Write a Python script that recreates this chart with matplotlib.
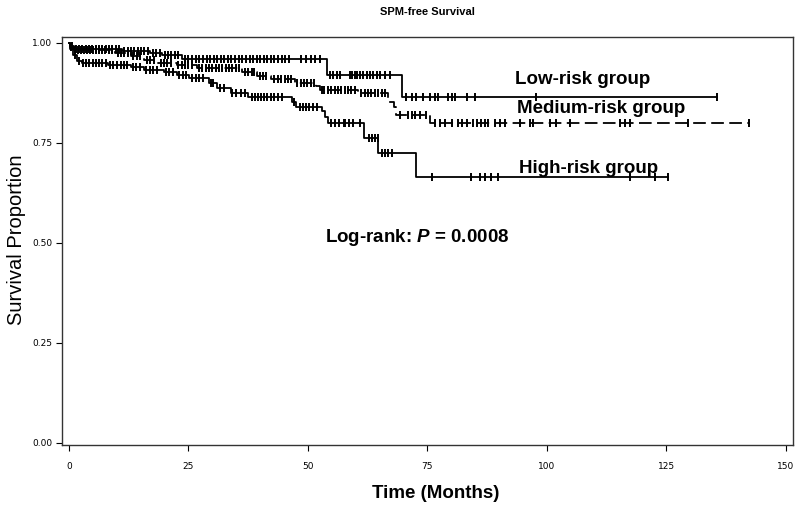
import numpy as np
import matplotlib
matplotlib.use("Agg")
import matplotlib.pyplot as plt

plt.rcParams["mathtext.fontset"] = "custom"
plt.rcParams["mathtext.it"] = "Liberation Sans:italic:bold"
plt.rcParams["mathtext.rm"] = "Liberation Sans:bold"

# ---- data ----
low_times = [0, 0.3, 1.0, 11.0, 17.0, 19.5, 23.7, 53.9, 69.6]
low_surv = [1.0, 0.992, 0.985, 0.979, 0.975, 0.971, 0.961, 0.921, 0.866]
low_end = 135.6
low_censor = [0.6, 1.4, 2.1, 2.8, 3.5, 4.2, 4.9, 5.6, 6.3, 7.0, 7.7, 8.4, 9.1, 9.8,
              10.5, 11.6, 12.3, 13.0, 13.7, 14.4, 15.1, 15.8, 16.5, 17.6, 18.3,
              19.0, 20.0, 20.7, 21.4, 22.1, 22.8, 24.3, 25.0, 25.8, 26.5, 27.3,
              28.0, 28.8, 29.5, 30.3, 31.0, 31.8, 32.5, 33.3, 34.0, 34.8, 35.5,
              36.3, 37.0, 37.8, 38.5, 39.3, 40.0, 40.8, 41.5, 42.3, 43.0, 43.8,
              44.5, 45.3, 46.0, 48.6, 49.6, 50.6, 51.5, 52.5, 54.6, 55.3, 56.0,
              56.7, 58.8, 59.3, 59.8, 60.3, 60.9, 61.6, 62.3, 63.0, 63.7, 64.4,
              65.1, 66.1, 67.2, 70.6, 71.7, 72.7, 74.1, 75.5, 76.6, 77.3, 79.4,
              80.1, 80.8, 83.2, 84.9, 97.8, 135.6]

med_times = [0, 0.3, 1.0, 9.6, 13.0, 15.7, 18.5, 22.5, 26.7, 36.2, 39.4, 42.3,
             47.2, 51.6, 52.5, 60.5, 66.8, 68.0, 68.5, 75.5]
med_surv = [1.0, 0.99, 0.982, 0.975, 0.967, 0.958, 0.950, 0.946, 0.937, 0.927,
            0.918, 0.911, 0.900, 0.892, 0.883, 0.874, 0.853, 0.839, 0.820, 0.800]
med_end = 142.3
med_censor = [0.5, 1.2, 1.8, 2.5, 3.1, 3.8, 4.4, 5.0, 5.7, 6.3, 7.0, 7.6, 8.3, 8.9,
              10.2, 10.9, 11.6, 12.3, 13.5, 14.2, 14.9, 16.3, 17.0, 17.7, 19.2,
              19.9, 20.6, 21.3, 22.9, 23.6, 24.3, 25.0, 25.7, 27.2, 27.9, 28.6,
              29.3, 30.0, 30.7, 31.4, 32.1, 32.8, 33.5, 34.2, 34.9, 35.6, 36.8,
              37.5, 38.2, 38.8, 40.0, 40.6, 41.3, 43.0, 43.7, 44.4, 45.1, 45.8,
              46.4, 47.8, 48.5, 49.2, 49.9, 50.6, 51.2, 52.9, 53.4, 54.2, 54.9,
              55.6, 56.3, 57.0, 57.7, 58.4, 59.1, 59.8, 61.2, 61.9, 62.6, 63.3,
              64.0, 64.7, 65.4, 66.1, 69.2, 71.0, 71.7, 72.4, 73.4, 74.8, 76.6,
              77.6, 78.7, 80.1, 81.5, 82.2, 83.2, 84.6, 85.3, 86.3, 87.0, 87.7,
              89.1, 90.2, 91.2, 94.4, 96.4, 97.1, 100.6, 102.0, 104.8, 115.3,
              116.3, 117.4, 129.6, 142.3]

high_times = [0, 0.3, 0.8, 1.6, 2.7, 8.2, 13.0, 15.7, 19.8, 22.5, 25.2, 29.3,
              31.0, 33.8, 37.5, 46.6, 47.5, 52.9, 53.5, 54.2, 61.7, 64.7, 72.7]
high_surv = [1.0, 0.985, 0.970, 0.956, 0.950, 0.946, 0.939, 0.933, 0.927, 0.921,
             0.913, 0.900, 0.887, 0.874, 0.864, 0.852, 0.839, 0.829, 0.816,
             0.799, 0.762, 0.724, 0.664]
high_end = 125.3
high_censor = [1.2, 2.0, 3.0, 3.5, 4.2, 5.0, 5.6, 6.3, 7.0, 7.7, 8.6, 9.3, 10.0,
               10.8, 11.5, 12.2, 13.4, 14.1, 14.8, 16.2, 16.9, 17.6, 18.4, 20.3,
               21.0, 21.8, 23.0, 23.8, 24.5, 25.7, 26.5, 27.3, 28.0, 29.8, 30.2,
               31.6, 32.5, 34.2, 35.0, 36.0, 36.8, 38.3, 38.9, 39.5, 40.2, 40.8,
               41.5, 42.2, 43.0, 43.8, 44.5, 47.0, 48.3, 49.0, 49.5, 50.2, 51.0,
               52.0, 54.8, 55.6, 56.5, 57.5, 57.8, 58.5, 59.5, 61.0, 62.7, 63.4,
               64.1, 64.6, 65.4, 66.1, 66.8, 67.5, 75.9, 84.2, 86.0, 87.0, 88.4,
               89.8, 117.4, 122.6, 125.3]

group_labels = ["Low-risk group", "Medium-risk group", "High-risk group"]
x_ticks = [0, 25, 50, 75, 100, 125, 150]
y_ticks = [0.0, 0.25, 0.5, 0.75, 1.0]
y_tick_labels = ["0.00", "0.25", "0.50", "0.75", "1.00"]

# ---- figure ----
fig = plt.figure(figsize=(8.0, 5.08), dpi=100)
ax = fig.add_axes([62 / 800, 1 - 445 / 508, 731 / 800, 408 / 508])


def draw_km(times, surv, end, censor, ls):
    t = np.append(times, end)
    s = np.append(surv, surv[-1])
    line, = ax.step(t, s, where="post", color="black", lw=1.3, linestyle=ls)
    if ls == "--":
        line.set_dashes((7, 3))
    c = np.asarray(censor)
    idx = np.searchsorted(np.asarray(times), c, side="right") - 1
    cs = np.asarray(surv)[idx]
    ax.plot(c, cs, linestyle="none", marker="|", markersize=6,
            markeredgewidth=1.4, color="black")


draw_km(low_times, low_surv, low_end, low_censor, "-")
draw_km(med_times, med_surv, med_end, med_censor, "--")
draw_km(high_times, high_surv, high_end, high_censor, "-")

ax.set_xlim(-1.46, 151.5)
ax.set_ylim(-0.005, 1.015)
ax.set_xticks(x_ticks)
ax.set_xticklabels([str(v) for v in x_ticks])
ax.set_yticks(y_ticks)
ax.set_yticklabels(y_tick_labels)
ax.tick_params(axis="both", direction="out", length=4, width=0.8,
               labelsize=6.5, pad=3)
ax.tick_params(axis="x", pad=8)
for sp in ax.spines.values():
    sp.set_linewidth(1.0)
    sp.set_color("#333333")

lab_font = dict(family="Liberation Sans", fontweight="bold", fontsize=13.5)
ax.text(93.3, 0.908, group_labels[0], ha="left", va="center", **lab_font)
ax.text(93.7, 0.836, group_labels[1], ha="left", va="center", **lab_font)
ax.text(94.1, 0.687, group_labels[2], ha="left", va="center", **lab_font)

ax.text(53.6, 0.515, "Log-rank: $P$ = 0.0008", ha="left",
        va="center", family="Liberation Sans", fontweight="bold", fontsize=13.5)

fig.text((62 + 793) / 2 / 800, 1 - 12 / 508, "SPM-free Survival", ha="center",
         va="center", family="Liberation Sans", fontweight="bold", fontsize=8)
fig.text(17 / 800, 1 - 240 / 508, "Survival Proportion", rotation=90,
         ha="center", va="center", family="Liberation Sans", fontsize=14.5)
fig.text(436 / 800, 1 - 493 / 508, "Time (Months)", ha="center", va="center",
         family="Liberation Sans", fontweight="bold", fontsize=13.5)

fig.savefig("out.png", dpi=100)
